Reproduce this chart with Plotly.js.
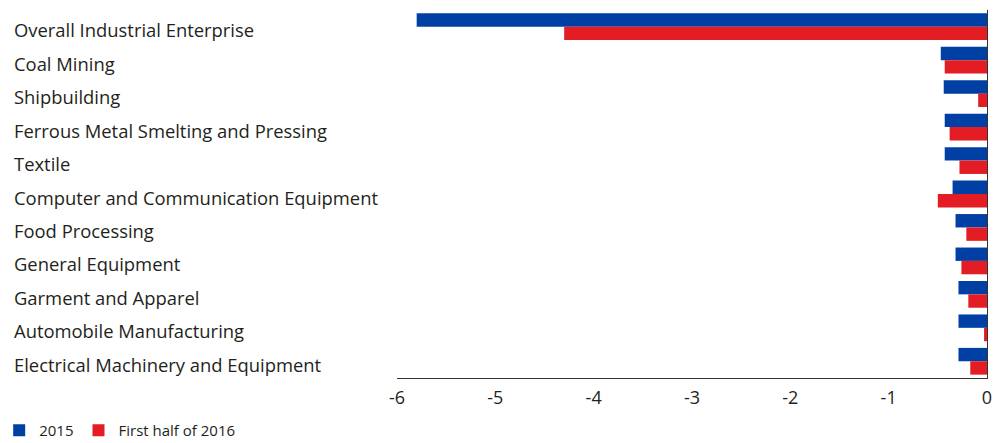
<!DOCTYPE html>
<html>
<head>
<meta charset="utf-8">
<script src="https://cdn.plot.ly/plotly-3.0.1.min.js"></script>
<style>html,body{margin:0;padding:0;background:#fff;}#chart{width:1003px;height:443px;}</style>
</head>
<body>
<div id="chart"></div>
<script>
var categories = [
  "Overall Industrial Enterprise",
  "Coal Mining",
  "Shipbuilding",
  "Ferrous Metal Smelting and Pressing",
  "Textile",
  "Computer and Communication Equipment",
  "Food Processing",
  "General Equipment",
  "Garment and Apparel",
  "Automobile Manufacturing",
  "Electrical Machinery and Equipment"
];
var values2015 = [-5.8, -0.47, -0.44, -0.43, -0.43, -0.35, -0.32, -0.32, -0.29, -0.29, -0.29];
var values2016H1 = [-4.3, -0.43, -0.09, -0.38, -0.28, -0.50, -0.21, -0.26, -0.19, -0.03, -0.17];
var xTicks = [-6, -5, -4, -3, -2, -1, 0];
var seriesNames = ["2015", "First half of 2016"];

var FONT = "'Open Sans', Lato, sans-serif";
var TXT = "#231f20";
var L = 396.5, R = 987.5, T = 10, B = 378;
var W = 1003, H = 443;

var traces = [
  {type: "bar", orientation: "h", name: seriesNames[0], y: categories, x: values2015,
   marker: {color: "#0040A4"}},
  {type: "bar", orientation: "h", name: seriesNames[1], y: categories, x: values2016H1,
   marker: {color: "#E41C24"}}
];

var annotations = categories.map(function (c) {
  return {xref: "paper", yref: "y", x: (12 - L) / (R - L), y: c, text: c,
    xanchor: "left", yanchor: "middle", showarrow: false, yshift: -3, borderpad: 0,
    font: {family: FONT, size: 18.4, color: TXT}};
});

var layout = {
  width: W, height: H,
  margin: {l: L, r: W - R, t: T, b: H - B, pad: 0, autoexpand: false},
  paper_bgcolor: "#fff", plot_bgcolor: "#fff",
  barmode: "group", bargap: 0.2, bargroupgap: 0,
  showlegend: true,
  legend: {orientation: "h", x: (-2 - L) / (R - L), xanchor: "left", y: (B - 414) / (B - T), yanchor: "top",
    font: {family: FONT, size: 15, color: TXT}, traceorder: "normal", itemwidth: 30},
  xaxis: {range: [-6, 0], tickvals: xTicks, ticktext: xTicks.map(String), showgrid: false, zeroline: false,
    showline: true, linecolor: "#333", linewidth: 1, ticks: "", ticklabelstandoff: 3,
    tickfont: {family: FONT, size: 18, color: TXT}, fixedrange: true},
  yaxis: {autorange: "reversed", type: "category", side: "right", showline: true, linecolor: "#333", linewidth: 1,
    showticklabels: false, showgrid: false, zeroline: false, ticks: "", fixedrange: true},
  annotations: annotations,
  font: {family: FONT}
};

Plotly.newPlot("chart", traces, layout, {displayModeBar: false, staticPlot: true});
</script>
</body>
</html>
